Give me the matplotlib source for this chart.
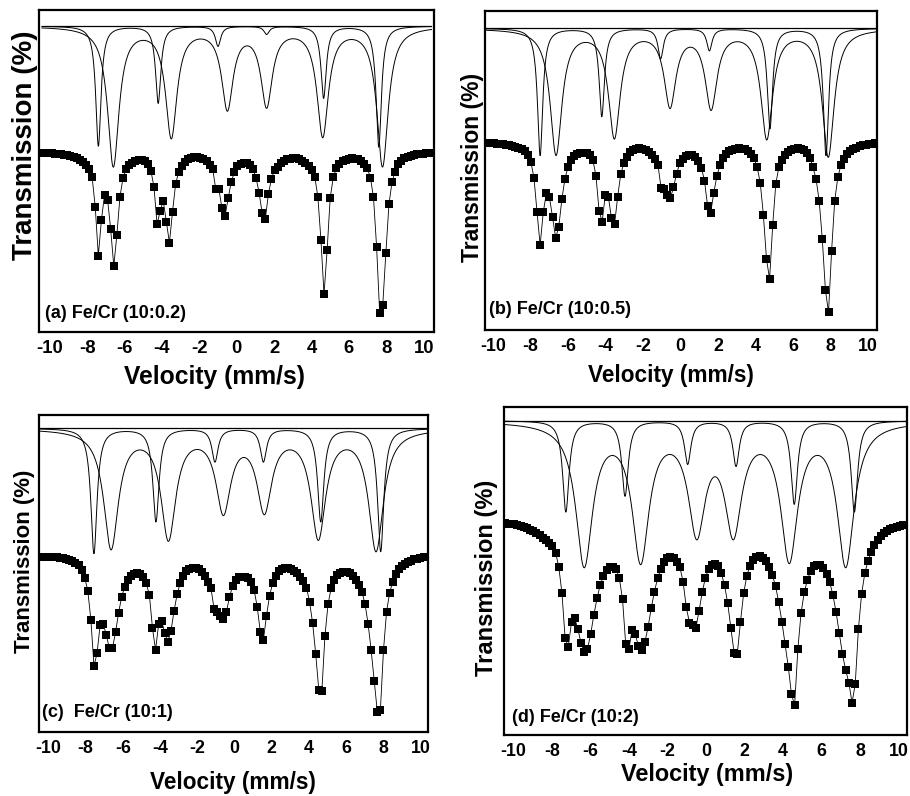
import numpy as np
import matplotlib
matplotlib.use("Agg")
import matplotlib.pyplot as plt

plt.rcParams["font.family"] = ["Liberation Sans", "DejaVu Sans"]
plt.rcParams["font.weight"] = "bold"
plt.rcParams["axes.unicode_minus"] = False

N_CH = 127

# measured spectra: velocity of first / last channel (mm/s) and transmission (%)
vel_a = (-10.38, 10.46)
trans_a = [
    100.00, 100.00, 99.98, 99.96, 99.94, 99.91, 99.87, 99.82, 99.76, 99.68,
    99.58, 99.46, 99.30, 99.10, 98.80, 98.40, 97.57, 94.63, 89.73, 93.30,
    95.80, 95.30, 92.37, 88.70, 91.80, 95.63, 97.53, 98.37, 98.80, 99.05,
    99.20, 99.28, 99.28, 99.18, 98.90, 98.23, 96.63, 92.87, 94.20, 95.23,
    93.13, 91.03, 94.13, 96.90, 98.13, 98.75, 99.15, 99.40, 99.55, 99.60,
    99.60, 99.52, 99.40, 99.20, 98.85, 98.37, 96.37, 96.37, 94.47, 93.73,
    95.47, 97.13, 98.07, 98.70, 98.95, 99.02, 99.00, 98.85, 98.40, 97.53,
    96.03, 93.97, 93.37, 95.87, 97.43, 98.30, 98.65, 99.00, 99.22, 99.37,
    99.45, 99.48, 99.47, 99.40, 99.25, 99.05, 98.75, 98.30, 97.63, 95.63,
    91.30, 85.87, 90.30, 95.53, 97.57, 98.47, 98.90, 99.20, 99.35, 99.45,
    99.47, 99.45, 99.37, 99.20, 98.95, 98.50, 97.53, 95.57, 90.63, 83.97,
    84.80, 90.03, 94.87, 97.13, 98.13, 98.90, 99.25, 99.47, 99.62, 99.74,
    99.82, 99.88, 99.92, 99.95, 99.97, 99.99, 100.00]

vel_b = (-10.30, 10.54)
trans_b = [
    100.00, 100.00, 99.99, 99.97, 99.95, 99.92, 99.88, 99.83, 99.76, 99.67,
    99.56, 99.43, 99.23, 98.88, 98.16, 96.56, 93.10, 89.83, 93.10, 95.00,
    94.60, 92.60, 90.56, 91.60, 94.40, 96.46, 97.66, 98.33, 98.73, 98.93,
    99.03, 99.06, 99.03, 98.83, 98.33, 96.76, 93.26, 92.16, 94.83, 94.66,
    92.50, 91.90, 94.66, 96.93, 98.00, 98.68, 99.13, 99.38, 99.48, 99.50,
    99.48, 99.38, 99.18, 98.88, 98.48, 97.86, 95.50, 95.40, 94.83, 94.50,
    95.60, 96.93, 98.00, 98.48, 98.73, 98.83, 98.83, 98.68, 98.28, 97.56,
    96.26, 93.73, 93.06, 95.06, 96.73, 97.83, 98.53, 98.98, 99.23, 99.38,
    99.46, 99.50, 99.48, 99.40, 99.23, 98.98, 98.53, 97.60, 96.00, 92.83,
    88.40, 86.43, 91.83, 95.93, 97.66, 98.38, 98.83, 99.13, 99.33, 99.46,
    99.50, 99.46, 99.33, 99.08, 98.58, 97.60, 96.40, 94.23, 90.40, 85.33,
    83.10, 89.26, 94.26, 96.60, 97.83, 98.48, 98.93, 99.23, 99.43, 99.58,
    99.70, 99.80, 99.87, 99.92, 99.96, 99.99, 100.00]

vel_c = (-10.36, 10.48)
trans_c = [
    100.00, 100.00, 99.99, 99.97, 99.95, 99.92, 99.88, 99.83, 99.76, 99.67,
    99.54, 99.37, 99.12, 98.67, 97.90, 96.60, 93.67, 89.07, 90.34, 93.17,
    93.30, 92.17, 90.84, 90.84, 92.44, 94.40, 96.00, 97.00, 97.67, 98.07,
    98.29, 98.34, 98.27, 97.97, 97.32, 96.17, 92.84, 90.67, 93.27, 93.57,
    92.34, 91.50, 92.57, 94.57, 96.24, 97.34, 98.07, 98.52, 98.75, 98.84,
    98.84, 98.72, 98.47, 98.02, 97.47, 96.84, 94.77, 94.50, 94.07, 93.77,
    94.50, 95.94, 97.10, 97.67, 97.92, 98.00, 98.00, 97.87, 97.47, 96.67,
    95.00, 92.50, 91.64, 94.07, 96.07, 97.34, 98.07, 98.52, 98.75, 98.84,
    98.84, 98.75, 98.57, 98.32, 97.97, 97.52, 96.90, 95.50, 93.34, 90.27,
    86.67, 86.60, 92.10, 95.24, 96.84, 97.62, 98.12, 98.39, 98.50, 98.50,
    98.37, 98.07, 97.67, 97.12, 96.50, 95.30, 93.30, 90.64, 87.57, 84.50,
    84.67, 90.64, 94.50, 96.40, 97.50, 98.27, 98.77, 99.07, 99.29, 99.47,
    99.61, 99.72, 99.81, 99.89, 99.95, 99.98, 100.00]

vel_d = (-10.45, 10.39)
trans_d = [
    100.00, 99.97, 99.93, 99.88, 99.81, 99.73, 99.63, 99.51, 99.37, 99.20,
    99.01, 98.78, 98.53, 98.28, 98.03, 97.73, 97.06, 95.66, 93.00, 88.50,
    87.66, 90.16, 90.50, 89.43, 88.00, 87.16, 87.43, 88.90, 90.83, 92.50,
    93.83, 94.73, 95.33, 95.66, 95.66, 95.43, 94.50, 92.40, 87.90, 87.43,
    89.33, 88.90, 87.73, 87.33, 88.10, 89.60, 91.50, 93.16, 94.50, 95.40,
    96.10, 96.56, 96.66, 96.50, 96.16, 95.60, 94.16, 91.60, 90.06, 89.83,
    89.50, 91.23, 93.10, 94.56, 95.43, 95.78, 95.88, 95.68, 94.98, 93.83,
    92.00, 89.50, 87.06, 86.90, 90.16, 93.00, 94.76, 95.76, 96.33, 96.63,
    96.68, 96.53, 96.18, 95.66, 94.83, 93.73, 92.10, 90.16, 87.90, 85.66,
    82.90, 81.83, 87.40, 91.00, 93.10, 94.33, 95.23, 95.68, 95.83, 95.78,
    95.48, 94.93, 94.10, 92.83, 91.10, 89.00, 86.90, 85.33, 84.06, 82.06,
    83.90, 89.43, 92.93, 95.00, 96.26, 97.16, 97.83, 98.33, 98.68, 98.98,
    99.23, 99.41, 99.55, 99.65, 99.73, 99.79, 99.83]

# fitted sextets (drawn offset above the data): line positions (mm/s),
# line depths (%), half width at half maximum (mm/s)
fit_base = {"a": 112.70, "b": 111.50, "c": 112.84, "d": 110.26}

sx1_pos_a = [-7.40, -4.20, -1.00, 1.60, 4.65, 7.60]
sx1_dep_a = [12.0, 7.7, 2.0, 0.8, 7.2, 12.1]
sx2_pos_a = [-6.60, -3.50, -0.50, 1.60, 4.60, 7.80]
sx2_dep_a = [13.9, 10.9, 8.0, 7.7, 10.8, 13.9]

sx1_pos_b = [-7.49, -4.20, -1.06, 1.54, 4.77, 7.76]
sx1_dep_b = [12.7, 8.8, 3.0, 2.2, 10.0, 12.7]
sx2_pos_b = [-6.64, -3.53, -0.56, 1.63, 4.60, 7.88]
sx2_dep_b = [12.5, 10.7, 7.5, 7.7, 10.8, 12.7]

sx1_pos_c = [-7.55, -4.22, -1.05, 1.55, 4.63, 7.85]
sx1_dep_c = [12.5, 9.3, 3.3, 3.3, 9.3, 12.3]
sx2_pos_c = [-6.63, -3.55, -0.60, 1.60, 4.50, 7.60]
sx2_dep_c = [11.8, 10.7, 7.9, 7.8, 10.6, 12.0]

sx1_pos_d = [-7.27, -4.20, -0.95, 1.56, 4.58, 7.70]
sx1_dep_d = [9.1, 7.5, 4.3, 4.5, 8.3, 9.1]
sx2_pos_d = [-6.32, -3.39, -0.48, 1.42, 4.32, 7.25]
sx2_dep_d = [14.1, 13.4, 10.4, 10.4, 13.3, 14.1]

hwhm = {"a": (0.17, 0.37), "b": (0.17, 0.38), "c": (0.20, 0.48), "d": (0.20, 0.53)}

labels = {"a": "(a) Fe/Cr (10:0.2)", "b": "(b) Fe/Cr (10:0.5)",
          "c": "(c)  Fe/Cr (10:1)", "d": "(d) Fe/Cr (10:2)"}


def sextet(v, pos, dep, g, base):
    v = np.asarray(v)[:, None]
    pos = np.asarray(pos)[None, :]
    dep = np.asarray(dep)[None, :]
    return base - np.sum(dep * g ** 2 / ((v - pos) ** 2 + g ** 2), axis=1)


W, H = 910, 796
fig = plt.figure(figsize=(W / 100, H / 100), dpi=100)


def px_rect(l, t, r, b):
    return [l / W, 1 - b / H, (r - l) / W, (b - t) / H]


panels = [
    dict(key="a", vel=vel_a, trans=trans_a, sx=(sx1_pos_a, sx1_dep_a, sx2_pos_a, sx2_dep_a),
         rect=px_rect(39.3, 10, 434.3, 332), xlim=(-10.56, 10.57), ylim=(82.1, 114.3),
         tick_fs=13.3, xl=(214, 377, 17.7), yl=(25, 145, 20), lab=(0.014, 0.059)),
    dict(key="b", vel=vel_b, trans=trans_b, sx=(sx1_pos_b, sx1_dep_b, sx2_pos_b, sx2_dep_b),
         rect=px_rect(485, 11, 877, 330), xlim=(-10.43, 10.48), ylim=(81.33, 113.23),
         tick_fs=12.8, xl=(671, 375, 16.3), yl=(472.5, 167, 16.5), lab=(0.010, 0.063)),
    dict(key="c", vel=vel_c, trans=trans_c, sx=(sx1_pos_c, sx1_dep_c, sx2_pos_c, sx2_dep_c),
         rect=px_rect(39, 415, 428, 732), xlim=(-10.50, 10.39), ylim=(82.47, 114.17),
         tick_fs=12.8, xl=(233, 783, 16.3), yl=(25, 561, 16), lab=(0.008, 0.060)),
    dict(key="d", vel=vel_d, trans=trans_d, sx=(sx1_pos_d, sx1_dep_d, sx2_pos_d, sx2_dep_d),
         rect=px_rect(504, 407, 907, 735), xlim=(-10.48, 10.43), ylim=(78.83, 111.63),
         tick_fs=12.8, xl=(707, 775, 16.9), yl=(486, 578, 17), lab=(0.020, 0.052)),
]

for p in panels:
    k = p["key"]
    ax = fig.add_axes(p["rect"])
    v = np.linspace(p["vel"][0], p["vel"][1], N_CH)

    # data points joined by a thin line
    ax.plot(v, p["trans"], "-", color="black", lw=0.6, zorder=2)
    ax.plot(v, p["trans"], "s", color="black", ms=5.2, mew=0, zorder=3)

    # sub-spectra
    vf = np.linspace(-10.42, 10.42, 2000)
    base = fit_base[k]
    ax.plot([vf[0], vf[-1]], [base, base], color="black", lw=0.9)
    pos1, dep1, pos2, dep2 = p["sx"]
    g1, g2 = hwhm[k]
    ax.plot(vf, sextet(vf, pos1, dep1, g1, base), color="black", lw=0.7)
    ax.plot(vf, sextet(vf, pos2, dep2, g2, base), color="black", lw=0.7)

    ax.set_xlim(*p["xlim"])
    ax.set_ylim(*p["ylim"])
    ax.set_yticks([])
    ax.set_xticks(range(-10, 11, 2))
    ax.tick_params(axis="x", length=0, pad=6, labelsize=p["tick_fs"])
    for s in ax.spines.values():
        s.set_linewidth(1.6)

    ax.text(p["lab"][0], p["lab"][1], labels[k], transform=ax.transAxes,
            fontsize=13, fontweight="bold", ha="left", va="center")

    x, y, fs = p["xl"]
    fig.text(x / W, 1 - y / H, "Velocity (mm/s)", fontsize=fs, fontweight="bold",
             ha="center", va="center")
    x, y, fs = p["yl"]
    fig.text(x / W, 1 - y / H, "Transmission (%)", fontsize=fs, fontweight="bold",
             ha="center", va="center", rotation=90)

fig.savefig("out.png", dpi=100)
